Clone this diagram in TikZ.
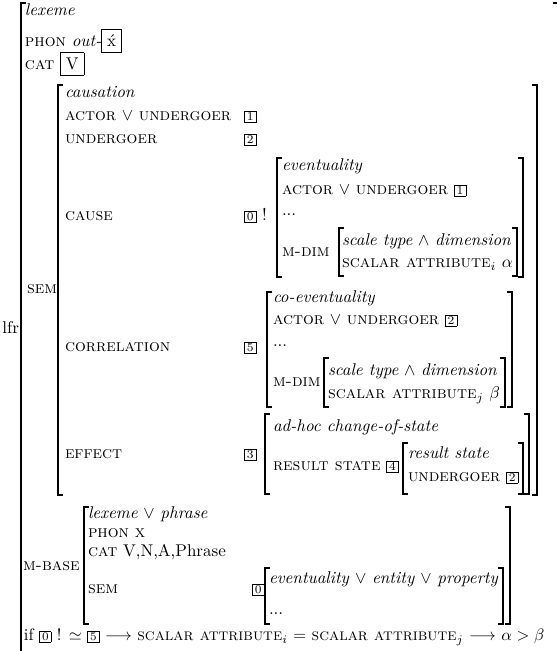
\documentclass[tikz,border=0pt]{standalone}
\usepackage{amsmath,amssymb}
\newcommand{\tg}[1]{{\fboxsep=0pt\fbox{\makebox[6.6pt]{\rule[-0.8pt]{0pt}{6pt}\scriptsize #1}}}}
\newcommand{\fs}[1]{\textsc{#1}}
\tikzset{
  txt/.style={anchor=mid west, inner sep=0pt, outer sep=0pt, scale=0.85},
  dots/.style={anchor=base west, inner sep=0pt, outer sep=0pt, scale=0.85},
  brk/.style={line width=0.7pt, line join=miter}
}
% left bracket: x, top, bottom ; right bracket: x, top, bottom
\newcommand{\lbr}[3]{\draw[brk] (#1+5,#2) -- (#1,#2) -- (#1,#3) -- (#1+5,#3);}
\newcommand{\rbr}[3]{\draw[brk] (#1-5,#2) -- (#1,#2) -- (#1,#3) -- (#1-5,#3);}
\begin{document}
\begin{tikzpicture}[x=0.5pt, y=-0.5pt]
\useasboundingbox (0,0) rectangle (556,651);
% outer structure
\node[txt, anchor=mid east] (lfr) at (19,330) {lfr};
\lbr{21}{3}{668}
\rbr{558}{3}{668}
\node[txt] (lex) at (25,12) {\textit{lexeme}};
\node[txt] (phon) at (25,43) {\fs{phon} \textit{out-}\fbox{\'x}};
\node[txt] (cat) at (25,66) {\fs{cat} \fbox{V}};
% SEM
\node[txt] (sem) at (27,290) {\fs{sem}};
\lbr{58}{85}{495}
\rbr{537}{85}{495}
\node[txt] (caus) at (65,94) {\textit{causation}};
\node[txt] (au1) at (65,117) {\fs{actor} $\vee$ \fs{undergoer}};
\node[txt] (t1) at (244,117) {\tg{1}};
\node[txt] (und) at (65,140) {\fs{undergoer}};
\node[txt] (t2) at (244,140) {\tg{2}};
% CAUSE
\node[txt] (cause) at (65,217) {\fs{cause}};
\node[txt] (t0) at (244,217) {\tg{0} !};
\lbr{277}{158}{277}
\rbr{523}{158}{277}
\node[txt] (ev) at (282,167) {\textit{eventuality}};
\node[txt] (au2) at (282,191) {\fs{actor} $\vee$ \fs{undergoer} \tg{1}};
\node[dots] (d1) at (282,216) {...};
\node[txt] (md1) at (282,253) {\fs{m-dim}};
\lbr{339}{228}{276}
\rbr{517}{228}{276}
\node[txt] (sc1) at (342,242) {\textit{scale type} $\wedge$ \textit{dimension}};
\node[txt] (sa1) at (342,264) {\fs{scalar attribute}$_i$ $\alpha$};
% CORRELATION
\node[txt] (corr) at (65,348) {\fs{correlation}};
\node[txt] (t5) at (244,348) {\tg{5}};
\lbr{267}{292}{407}
\rbr{512}{292}{407}
\node[txt] (coev) at (273,299) {\textit{co-eventuality}};
\node[txt] (au3) at (273,321) {\fs{actor} $\vee$ \fs{undergoer} \tg{2}};
\node[dots] (d2) at (273,346) {...};
\node[txt] (md2) at (273,383) {\fs{m-dim}};
\lbr{324}{358}{407}
\rbr{505}{358}{407}
\node[txt] (sc2) at (328,372) {\textit{scale type} $\wedge$ \textit{dimension}};
\node[txt] (sa2) at (328,395) {\fs{scalar attribute}$_j$ $\beta$};
% EFFECT
\node[txt] (eff) at (65,455) {\fs{effect}};
\node[txt] (t3) at (244,455) {\tg{3}};
\lbr{265}{414}{494}
\rbr{529}{414}{494}
\node[txt] (adhoc) at (273,428) {\textit{ad-hoc change-of-state}};
\node[txt] (rs) at (273,467) {\fs{result state} \tg{4}};
\lbr{403}{443}{494}
\rbr{523}{443}{494}
\node[txt] (rst) at (408,455) {\textit{result state}};
\node[txt] (und2) at (408,478) {\fs{undergoer} \tg{2}};
% M-BASE
\node[txt] (mb) at (23,567) {\fs{m-base}};
\lbr{84}{507}{624}
\rbr{510}{507}{624}
\node[txt] (lp) at (88,515) {\textit{lexeme} $\vee$ \textit{phrase}};
\node[txt] (px) at (88,534) {\fs{phon} \fs{x}};
\node[txt] (cv) at (88,553) {\fs{cat} V,N,A,Phrase};
\node[txt] (sem2) at (88,590) {\fs{sem}};
\node[txt] (t0b) at (252,590) {\tg{0}};
\lbr{265}{568}{624}
\rbr{503}{568}{624}
\node[txt] (eep) at (269,580) {\textit{eventuality} $\vee$ \textit{entity} $\vee$ \textit{property}};
\node[dots] (d3) at (269,614) {...};
% condition
\node[txt, scale=0.975] (cond) at (24,637) {if \tg{0} ! $\simeq$ \tg{5} $\longrightarrow$ \fs{scalar attribute}$_i$ $=$ \fs{scalar attribute}$_j$ $\longrightarrow$ $\alpha > \beta$};
\end{tikzpicture}
\end{document}
